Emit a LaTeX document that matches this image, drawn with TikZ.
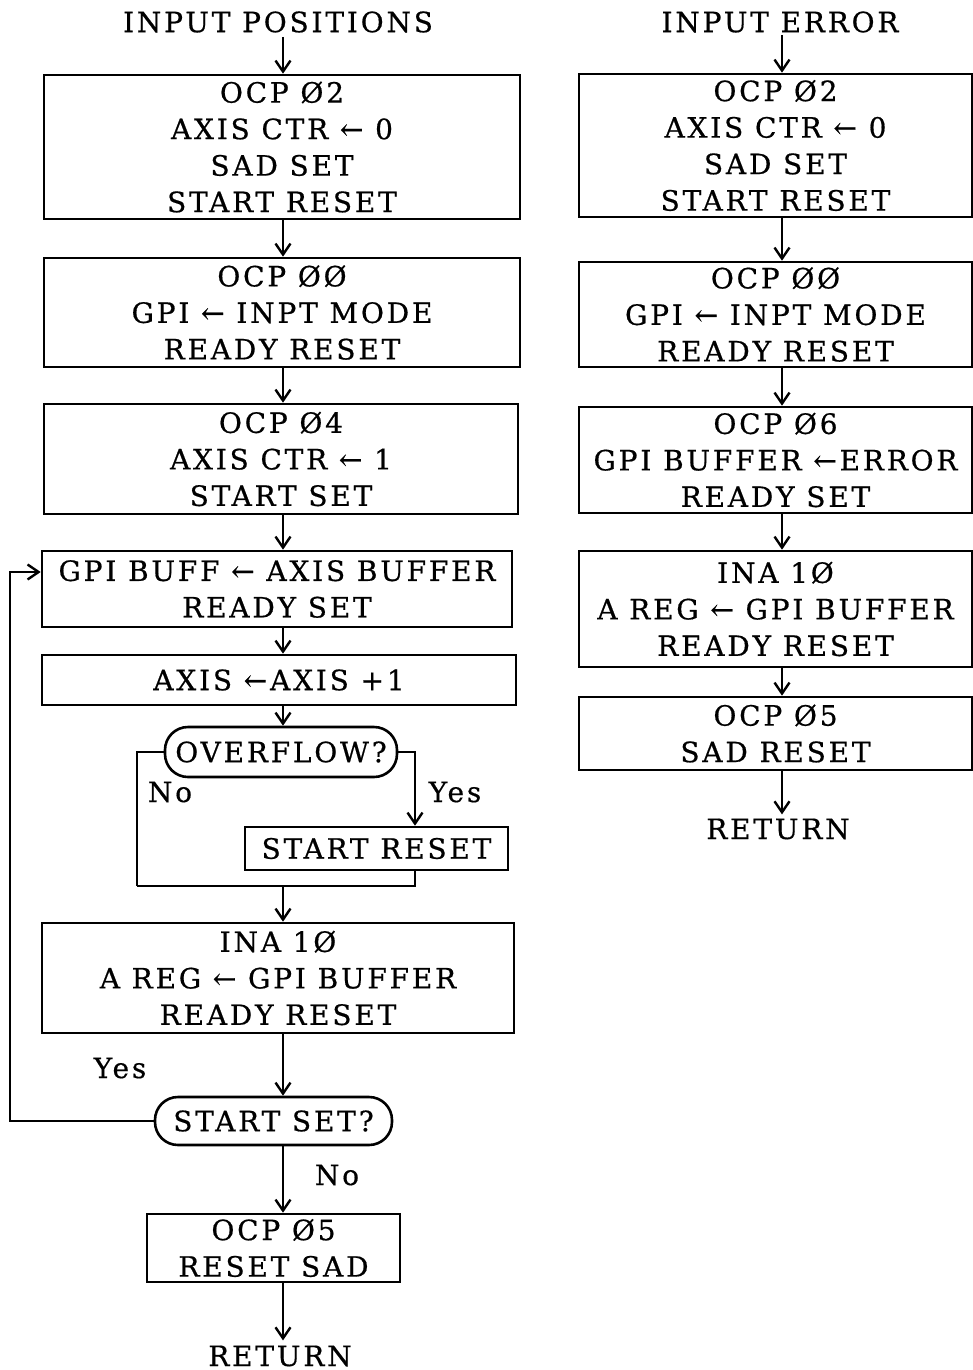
\documentclass[tikz,border=0pt]{standalone}
\usepackage{fontspec}
\setmainfont{DejaVu Serif}[LetterSpace=10,FakeBold=0.6]
\usetikzlibrary{arrows.meta}
\newcommand\bxfont{\fontsize{28}{36.5}\selectfont}
\tikzset{
  box/.style={draw, line width=2.6pt, inner sep=0pt, align=center, font=\bxfont},
  dec/.style={box, rounded corners=23pt},
  lbl/.style={font=\bxfont, inner sep=0pt},
  flow/.style={line width=2.6pt, -{Straight Barb[length=11pt,width=15pt,line width=2.4pt]}},
  plain/.style={line width=2.6pt}
}
\begin{document}
\begin{tikzpicture}[x=1pt,y=-1pt]
\useasboundingbox (0,0) rectangle (972,1370);
% column guides
\coordinate (cx) at (283,0);
\coordinate (rx) at (782,0);
\coordinate (yx) at (415,0);
\coordinate (lp) at (10,0);
\coordinate (nojoin) at (137,886);
\coordinate (r4) at (0,572);
% left column
\node[lbl] (inpos) at (278,22) {INPUT POSITIONS};
\node[box, minimum width=476pt, minimum height=144pt] (L1) at (282,147) {OCP Ø2\\AXIS CTR ← 0\\SAD SET\\START RESET};
\node[box, minimum width=476pt, minimum height=109pt] (L2) at (282,312.5) {OCP ØØ\\GPI ← INPT MODE\\READY RESET};
\node[box, minimum width=474pt, minimum height=110pt] (L3) at (281,459) {OCP Ø4\\AXIS CTR ← 1\\START SET};
\node[box, minimum width=470pt, minimum height=76pt] (L4) at (277,589) {GPI BUFF ← AXIS BUFFER\\READY SET};
\node[box, minimum width=474pt, minimum height=50pt] (L5) at (279,680) {AXIS ←AXIS +1};
\node[dec, minimum width=232pt, minimum height=50pt] (OV) at (281,752) {OVERFLOW?};
\node[box, minimum width=263pt, minimum height=43pt] (SR) at (376.5,848.5) {START RESET};
\node[box, minimum width=472pt, minimum height=110pt] (L6) at (278,978) {INA 1Ø\\A REG ← GPI BUFFER\\READY RESET};
\node[dec, minimum width=237pt, minimum height=48pt] (SS) at (273.5,1121) {START SET?};
\node[box, minimum width=253pt, minimum height=68pt] (L7) at (273.5,1248) {OCP Ø5\\RESET SAD};
\node[lbl] (ret1) at (280,1356) {RETURN};
\node[lbl] (no1) at (170,792) {No};
\node[lbl] (yes1) at (455,792) {Yes};
\node[lbl] (yes2) at (120,1068) {Yes};
\node[lbl] (no2) at (337,1175) {No};
% left connectors
\draw[flow] (inpos.south -| cx) ++(0,4) -- (L1.north -| cx);
\draw[flow] (L1.south -| cx) -- (L2.north -| cx);
\draw[flow] (L2.south -| cx) -- (L3.north -| cx);
\draw[flow] (L3.south -| cx) -- (L4.north -| cx);
\draw[flow] (L4.south -| cx) -- (L5.north -| cx);
\draw[flow] (L5.south -| cx) -- (OV.north -| cx);
\draw[plain] (OV.west) -- (OV.west -| nojoin) -- (nojoin);
\draw[flow] (OV.east) -- (OV.east -| yx) -- (SR.north -| yx);
\draw[plain] (SR.south -| yx) -- (yx |- nojoin) -- (nojoin);
\draw[flow] (cx |- nojoin) -- (L6.north -| cx);
\draw[flow] (L6.south -| cx) -- (SS.north -| cx);
\draw[flow] (SS.west) -- (SS.west -| lp) -- (lp |- r4) -- (L4.west |- r4);
\draw[flow] (SS.south -| cx) -- (L7.north -| cx);
\draw[flow, shorten >=5pt] (L7.south -| cx) -- (ret1.north -| cx);
% right column
\node[lbl] (inerr) at (780,22) {INPUT ERROR};
\node[box, minimum width=393pt, minimum height=143pt] (R1) at (775.5,145.5) {OCP Ø2\\AXIS CTR ← 0\\SAD SET\\START RESET};
\node[box, minimum width=393pt, minimum height=105pt] (R2) at (775.5,314.5) {OCP ØØ\\GPI ← INPT MODE\\READY RESET};
\node[box, minimum width=393pt, minimum height=106pt] (R3) at (775.5,460) {OCP Ø6\\GPI BUFFER ←ERROR\\READY SET};
\node[box, minimum width=393pt, minimum height=116pt] (R4) at (775.5,609) {INA 1Ø\\A REG ← GPI BUFFER\\READY RESET};
\node[box, minimum width=393pt, minimum height=73pt] (R5) at (775.5,733.5) {OCP Ø5\\SAD RESET};
\node[lbl] (ret2) at (778,829) {RETURN};
\draw[flow] (rx |- inerr.south) ++(0,2) -- (R1.north -| rx);
\draw[flow] (R1.south -| rx) -- (R2.north -| rx);
\draw[flow] (R2.south -| rx) -- (R3.north -| rx);
\draw[flow] (R3.south -| rx) -- (R4.north -| rx);
\draw[flow] (R4.south -| rx) -- (R5.north -| rx);
\draw[flow, shorten >=4pt] (R5.south -| rx) -- (ret2.north -| rx);
\end{tikzpicture}
\end{document}
